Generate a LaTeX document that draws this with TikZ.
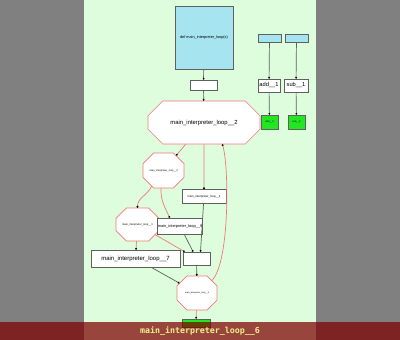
\documentclass[tikz,border=0pt]{standalone}
\usepackage{fontspec}
\setmainfont{Liberation Sans}
\newfontfamily\bannerfont{DejaVu Sans Mono}
\usetikzlibrary{arrows.meta,shapes.misc}
\definecolor{ink}{HTML}{606060}
\definecolor{backdrop}{HTML}{808080}
\definecolor{panel}{HTML}{DDFDDD}
\definecolor{func}{HTML}{A6E4F0}
\definecolor{leaf}{HTML}{22E622}
\definecolor{flow}{HTML}{F07878}
\definecolor{banner}{HTML}{7E0000}
\definecolor{tag}{HTML}{F0F08A}
\newcommand{\fs}[1]{\fontsize{#1}{#1}\selectfont}

\begin{document}
\begin{tikzpicture}[x=1pt,y=-1pt,>={Circle[length=1.8pt,color=black]},
  bx/.style={draw=ink,fill=white,inner sep=0pt,line width=0.7pt},
  oct/.style={chamfered rectangle,draw=flow,fill=white,inner sep=0pt,line width=0.7pt},
  ged/.style={draw=ink,line width=0.7pt,->},
  red/.style={draw=flow,line width=0.7pt,->}]
  \useasboundingbox (0,0) rectangle (400,340);
  \fill[backdrop] (0,0) rectangle (400,340);
  \fill[panel] (84,0) rectangle (316,340);
  % function entry and first block
  \node[bx,fill=func,minimum width=58pt,minimum height=63pt] (def) at (204,37.5)
    {\fs{3.8}def main\_interpreter\_loop(s)};
  \node[bx,minimum width=27pt,minimum height=10pt] (n1) at (203.5,85) {};
  \node[oct,minimum width=112pt,minimum height=43pt,chamfered rectangle xsep=33pt,
        chamfered rectangle ysep=12pt] (l2) at (204,122.5) {\fs{5.9}main\_interpreter\_loop\_\_2};
  % helper functions
  \node[bx,fill=func,minimum width=23pt,minimum height=8pt] (fa) at (269.5,38) {};
  \node[bx,fill=func,minimum width=23pt,minimum height=8pt] (fs) at (296.5,38) {};
  \node[bx,minimum width=22pt,minimum height=13pt] (add1) at (269,85.5) {\fs{5.7}add\_\_1};
  \node[bx,minimum width=24pt,minimum height=13pt] (sub1) at (296,85.5) {\fs{5.7}sub\_\_1};
  \node[bx,fill=leaf,minimum width=17pt,minimum height=14pt] (add2) at (269.5,122) {\fs{2.5}add\_\_2};
  \node[bx,fill=leaf,minimum width=17pt,minimum height=14pt] (sub2) at (296.5,122) {\fs{2.5}sub\_\_2};
  % loop body
  \node[oct,minimum width=41pt,minimum height=35pt,chamfered rectangle xsep=10.5pt,
        chamfered rectangle ysep=9.5pt] (l3) at (163.5,170.5) {\fs{2.5}main\_interpreter\_loop\_\_3};
  \node[bx,minimum width=44pt,minimum height=14pt] (l4) at (204,196.5) {\fs{2.9}main\_interpreter\_loop\_\_4};
  \node[oct,minimum width=43pt,minimum height=33pt,chamfered rectangle xsep=11pt,
        chamfered rectangle ysep=9pt] (l1) at (137.5,224.5) {\fs{2.7}main\_interpreter\_loop\_\_1};
  \node[bx,minimum width=44pt,minimum height=16pt] (l9) at (180,226) {\fs{3.9}main\_interpreter\_loop\_\_9};
  \node[bx,minimum width=89pt,minimum height=17pt] (l7) at (135.5,258.5) {\fs{6}main\_interpreter\_loop\_\_7};
  \node[bx,minimum width=27pt,minimum height=13pt] (jn) at (196.5,258.5) {};
  \node[oct,minimum width=40pt,minimum height=34pt,chamfered rectangle xsep=10pt,
        chamfered rectangle ysep=9pt] (l8) at (197,293) {\fs{2.1}main\_interpreter\_loop\_\_8};
  \node[bx,fill=leaf,minimum width=28pt,minimum height=8pt] (ex) at (196,323) {};
  % connectors
  \foreach \a/\b in {def/n1,n1/l2,fa/add1,add1/add2,fs/sub1,sub1/sub2,l9/jn,jn/l8,l7/l8}
    {\draw[ged] (\a) -- (\b);}
  \draw[ged] (l4) -- ([xshift=4pt]jn.north);
  \foreach \a/\b in {l2/l3,l2/l4,l1/l7,l1/jn,l8/ex}
    {\draw[red] (\a) -- (\b);}
  \draw[red] (l3.233) to[out=-115,in=90] (l1.north);
  \draw[red] (l3.262) to[out=-92,in=115] (l9.141);
  \draw[red] (l8.40) .. controls (230,262) and (229,165) .. (l2.-50);
  % banner
  \fill[banner,opacity=0.72] (0,322) rectangle (400,340);
  \node[font=\bannerfont\bfseries\fs{8.3},text=tag] (title) at (200,331)
    {main\_interpreter\_loop\_\_6};
\end{tikzpicture}
\end{document}
